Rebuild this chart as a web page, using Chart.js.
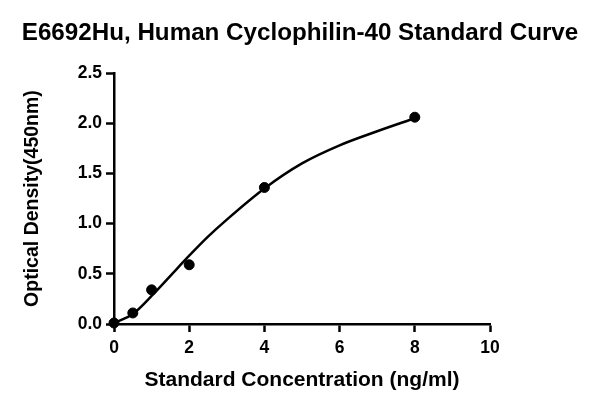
<!DOCTYPE html>
<html>
<head>
<meta charset="utf-8">
<script src="https://cdn.jsdelivr.net/npm/chart.js@4"></script>
<style>
html,body{margin:0;padding:0;background:#fff;}
#wrap{width:600px;height:408px;position:relative;}
</style>
</head>
<body>
<div id="wrap"><canvas id="c" width="600" height="408"></canvas></div>
<script>
const chartTitle = "E6692Hu, Human Cyclophilin-40 Standard Curve";
const xTitle = "Standard Concentration (ng/ml)";
const yTitle = "Optical Density(450nm)";
const stdConc = [0, 0.5, 1, 2, 4, 8];
const stdOD = [0.01, 0.11, 0.34, 0.59, 1.36, 2.06];
const curveConc = [0, 0.5, 1, 1.5, 2, 2.5, 3, 4, 5, 6, 7, 8];
const curveOD = [0.01, 0.10, 0.28, 0.48, 0.68, 0.87, 1.04, 1.35, 1.60, 1.78, 1.92, 2.05];

const FONT = '"Liberation Sans", Arial, sans-serif';
const pts = stdConc.map((x, i) => ({x: x, y: stdOD[i]}));
const curve = curveConc.map((x, i) => ({x: x, y: curveOD[i]}));

new Chart(document.getElementById('c'), {
  type: 'scatter',
  data: {
    datasets: [
      {
        data: curve, showLine: true, borderColor: '#000', borderWidth: 2.5,
        pointRadius: 0, cubicInterpolationMode: 'monotone', clip: false, fill: false
      },
      {
        data: pts, showLine: false, backgroundColor: '#000', borderColor: '#000',
        pointRadius: 5, pointHoverRadius: 5, clip: false
      }
    ]
  },
  options: {
    responsive: false,
    animation: false,
    events: [],
    layout: {padding: 0},
    plugins: {
      legend: {display: false},
      tooltip: {enabled: false},
      title: {
        display: true, text: chartTitle, color: '#000',
        font: {family: FONT, size: 24.2, weight: 'bold', lineHeight: 1.2},
        padding: {top: 19, bottom: 25}
      }
    },
    scales: {
      x: {
        type: 'linear', min: 0, max: 10,
        afterFit: s => { s.height = 84; },
        border: {display: true, color: '#000', width: 2.5},
        grid: {display: true, drawOnChartArea: false, drawTicks: true, tickLength: 8, tickColor: '#000', tickWidth: 2.5},
        ticks: {stepSize: 2, color: '#000', padding: 6, font: {family: FONT, size: 17.5, weight: 'bold'}},
        title: {display: true, text: xTitle, color: '#000', font: {family: FONT, size: 21, weight: 'bold', lineHeight: 1.2}, padding: {top: 0, bottom: 15}}
      },
      y: {
        type: 'linear', min: 0, max: 2.5,
        afterFit: s => { s.width = 114; },
        border: {display: true, color: '#000', width: 2.5},
        grid: {display: true, drawOnChartArea: false, drawTicks: true, tickLength: 8, tickColor: '#000', tickWidth: 2.5},
        ticks: {stepSize: 0.5, color: '#000', padding: 4, font: {family: FONT, size: 17.5, weight: 'bold'}, callback: v => v.toFixed(1)},
        title: {display: true, text: yTitle, color: '#000', font: {family: FONT, size: 19.5, weight: 'bold', lineHeight: 1.2}, padding: {top: 21, bottom: 0}}
      },
      yRight: {
        type: 'linear', position: 'right', min: 0, max: 2.5,
        afterFit: s => { s.width = 110; },
        border: {display: false},
        grid: {display: false, drawTicks: false},
        ticks: {display: false}
      }
    }
  }
});
</script>
</body>
</html>
